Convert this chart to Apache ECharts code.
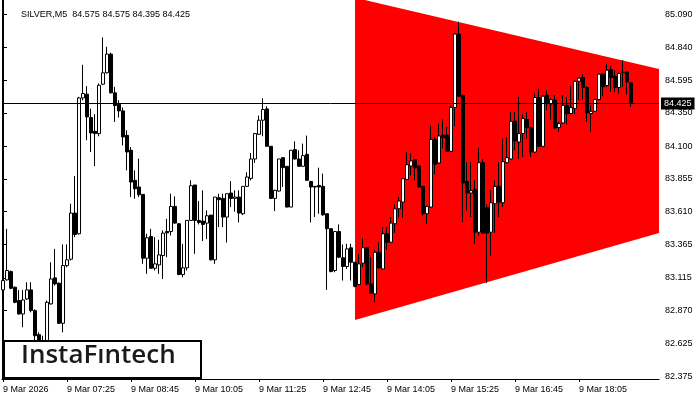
<!DOCTYPE html>
<html>
<head>
<meta charset="utf-8">
<script src="https://cdn.jsdelivr.net/npm/echarts@6/dist/echarts.min.js"></script>
<style>html,body{margin:0;padding:0;background:#fff;}#c{width:700px;height:400px;}</style>
</head>
<body>
<div id="c"></div>
<script>
const symbolTitle = 'SILVER,M5  84.575 84.575 84.395 84.425';
const currentPrice = 84.425;
const opens = [83.025,83.100,83.162,83.045,82.945,82.845,82.957,83.025,82.870,82.690,82.640,82.580,82.920,83.115,83.075,82.775,83.207,83.255,83.600,83.445,
84.462,84.490,84.315,84.212,84.195,84.565,84.650,84.790,84.500,84.415,84.365,84.182,84.070,83.845,83.795,83.740,83.262,83.425,83.187,83.212,
83.282,83.462,83.462,83.650,83.520,83.140,83.190,83.545,83.810,83.545,83.540,83.525,83.585,83.250,83.715,83.710,83.570,83.750,83.710,83.720,
83.595,83.800,83.860,84.005,84.190,84.295,84.380,84.100,83.710,83.765,84.015,83.950,83.645,84.075,84.005,83.950,84.040,83.837,83.800,83.807,
83.800,83.595,83.483,83.170,83.462,83.265,83.200,83.340,83.232,83.065,83.225,83.340,83.070,82.995,83.307,83.182,83.445,83.382,83.520,83.632,
83.682,83.852,83.952,84.000,83.952,83.800,83.595,83.645,84.152,83.975,84.182,84.182,84.062,84.390,84.940,84.482,83.837,83.750,83.777,83.457,
83.977,83.640,83.457,83.670,83.800,83.677,83.977,84.005,84.287,84.132,84.195,84.300,84.240,84.057,84.465,84.100,84.482,84.415,84.445,84.240,
84.275,84.407,84.345,84.382,84.587,84.615,84.540,84.345,84.362,84.450,84.640,84.555,84.675,84.625,84.540,84.650,84.655,84.575];
const closes = [83.095,83.170,83.037,82.932,82.845,82.950,83.025,82.870,82.682,82.650,82.600,82.932,83.107,83.070,82.775,83.207,83.250,83.600,83.440,84.462,
84.495,84.320,84.200,84.195,84.557,84.650,84.790,84.500,84.405,84.365,84.170,84.057,83.832,83.782,83.737,83.262,83.415,83.187,83.220,83.287,
83.450,83.452,83.650,83.525,83.140,83.190,83.545,83.805,83.545,83.530,83.515,83.580,83.250,83.720,83.700,83.570,83.745,83.710,83.720,83.600,
83.800,83.870,84.005,84.195,84.295,84.375,84.100,83.710,83.770,84.005,83.940,83.645,84.070,84.005,83.950,84.030,83.845,83.795,83.795,83.795,
83.587,83.483,83.162,83.462,83.270,83.200,83.332,83.232,83.052,83.220,83.340,83.070,83.000,83.307,83.190,83.445,83.382,83.525,83.632,83.690,
83.857,83.962,83.990,83.937,83.795,83.595,83.650,84.152,83.965,84.177,84.165,84.062,84.390,84.940,84.475,83.825,83.750,83.768,83.457,83.977,
83.450,83.450,83.677,83.800,83.682,83.985,84.015,84.287,84.140,84.195,84.307,84.240,84.057,84.465,84.100,84.475,84.420,84.450,84.237,84.270,
84.407,84.345,84.390,84.587,84.610,84.540,84.350,84.362,84.450,84.640,84.545,84.670,84.615,84.540,84.645,84.655,84.582,84.425];
const lows = [82.945,83.095,83.030,82.925,82.840,82.745,82.950,82.857,82.650,82.620,82.560,82.560,82.915,83.057,82.770,82.707,83.195,83.245,83.420,83.440,
84.445,84.145,84.057,83.952,84.175,84.560,84.645,84.495,84.282,84.315,84.107,83.920,83.720,83.707,83.720,83.220,83.145,83.185,83.170,83.145,
83.107,83.270,83.432,83.520,83.135,83.120,83.170,83.545,83.295,83.515,83.390,83.405,83.245,83.220,83.495,83.495,83.380,83.645,83.610,83.530,
83.585,83.795,83.845,83.975,84.185,84.175,84.100,83.705,83.615,83.760,83.795,83.645,83.645,84.000,83.950,83.945,83.845,83.530,83.570,83.595,
83.580,83.025,83.157,83.157,83.265,83.095,83.182,83.095,83.045,83.060,83.195,83.057,82.995,82.932,83.185,83.180,83.325,83.375,83.452,83.565,
83.565,83.850,83.882,83.845,83.790,83.582,83.520,83.640,83.890,83.970,84.082,84.060,84.057,84.250,84.470,83.532,83.620,83.570,83.370,83.432,
83.445,83.077,83.277,83.452,83.570,83.645,83.970,84.000,84.070,84.007,84.020,84.157,84.020,84.050,84.095,84.095,84.370,84.295,84.232,84.207,
84.265,84.265,84.340,84.340,84.445,84.450,84.282,84.207,84.357,84.445,84.475,84.545,84.507,84.507,84.495,84.545,84.487,84.395];
const highs = [83.232,83.482,83.170,83.050,83.025,83.025,83.082,83.082,82.880,82.707,82.682,82.945,83.232,83.332,83.080,83.365,83.365,83.670,83.877,84.470,
84.710,84.550,84.382,84.340,84.570,84.915,84.845,84.800,84.545,84.445,84.390,84.220,84.095,83.920,84.007,83.740,83.445,83.482,83.420,83.400,
83.470,83.557,83.745,83.725,83.525,83.370,83.545,83.845,83.810,83.690,83.770,83.620,83.585,83.720,83.745,83.745,83.745,83.840,83.770,83.770,
83.800,83.905,84.050,84.200,84.330,84.460,84.400,84.100,83.775,84.005,84.015,83.950,84.070,84.137,84.070,84.120,84.180,83.840,83.802,83.940,
83.895,83.595,83.483,83.462,83.515,83.365,83.370,83.370,83.232,83.295,83.415,83.340,83.270,83.325,83.382,83.495,83.495,83.570,83.665,83.720,
83.860,84.057,84.045,84.005,83.955,83.800,83.655,84.257,84.170,84.270,84.302,84.245,84.407,84.945,85.032,84.485,83.982,83.982,83.845,84.090,
84.007,83.665,83.770,83.845,83.982,84.157,84.170,84.357,84.357,84.470,84.340,84.357,84.245,84.495,84.532,84.482,84.520,84.457,84.482,84.282,
84.482,84.470,84.550,84.590,84.612,84.640,84.550,84.407,84.455,84.642,84.642,84.715,84.700,84.670,84.650,84.745,84.660,84.575];

// x-axis tick labels (candle index -> label)
const tickIndices = [0,16,32,48,64,80,96,112,128,144];
const tickLabels = ['9 Mar 2026','9 Mar 07:25','9 Mar 08:45','9 Mar 10:05','9 Mar 11:25','9 Mar 12:45','9 Mar 14:05','9 Mar 15:25','9 Mar 16:45','9 Mar 18:05'];
// y-axis tick labels
const priceTicks = [82.375,82.625,82.870,83.115,83.365,83.610,83.855,84.100,84.350,84.595,84.840,85.090];
// triangle pattern (candle index, price)
const triangleX = [88, 164, 164, 88];
const triangleY = [85.212, 84.678, 83.451, 82.800];

const candleData = opens.map((o, i) => [i, o, closes[i], lows[i], highs[i]]);
const FONT = 'Liberation Sans';

const chart = echarts.init(document.getElementById('c'), null, {renderer: 'canvas'});
chart.setOption({
  animation: false,
  backgroundColor: '#ffffff',
  title: {
    text: symbolTitle, left: 16, top: 5,
    textStyle: {fontSize: 9, fontWeight: 'normal', color: '#000', fontFamily: FONT}
  },
  grid: {left: 2, right: 41, top: 0, bottom: 21},
  xAxis: {
    type: 'value', min: -0.25, max: 164,
    axisLine: {show: true, lineStyle: {color: '#000', width: 1}},
    axisTick: {show: true, length: 3, lineStyle: {color: '#000'}, customValues: tickIndices},
    axisLabel: {
      show: true, customValues: tickIndices, align: 'left', margin: 6,
      fontSize: 9, color: '#000', fontFamily: FONT,
      formatter: v => { const k = tickIndices.indexOf(Math.round(v)); return k >= 0 ? tickLabels[k] : ''; }
    },
    splitLine: {show: false}
  },
  yAxis: [{
    type: 'value', position: 'right', min: 82.358, max: 85.195, scale: true,
    axisLine: {show: true, lineStyle: {color: '#000', width: 1}},
    axisTick: {show: true, length: 4, lineStyle: {color: '#000'}, customValues: priceTicks},
    axisLabel: {show: true, customValues: priceTicks, margin: 6, fontSize: 9, color: '#000', fontFamily: FONT,
      formatter: v => v.toFixed(3)},
    splitLine: {show: false}
  }, {
    type: 'value', position: 'left', min: 82.358, max: 85.195,
    axisLine: {show: true, onZero: false, lineStyle: {color: '#000', width: 1}},
    axisTick: {show: false}, axisLabel: {show: false}, splitLine: {show: false}
  }],
  series: [{
    type: 'custom',
    z: 1,
    silent: true,
    data: [[0, 83.5]],
    renderItem: (params, api) => ({
      type: 'polygon',
      shape: {points: triangleX.map((x, k) => api.coord([x, triangleY[k]]))},
      style: {fill: '#ff0000'}
    })
  }, {
    type: 'candlestick',
    z: 3,
    barWidth: 3,
    dimensions: ['idx', 'open', 'close', 'lowest', 'highest'],
    encode: {x: 'idx', y: ['open', 'close', 'lowest', 'highest']},
    data: candleData,
    itemStyle: {color: '#ffffff', color0: '#000000', borderColor: '#000000', borderColor0: '#000000', borderWidth: 1},
    markLine: {
      silent: true, symbol: 'none', animation: false,
      lineStyle: {color: '#000', width: 1, type: 'solid'},
      label: {show: true, position: 'end', distance: 2, formatter: () => currentPrice.toFixed(3),
        backgroundColor: '#000', color: '#fff', fontSize: 9, fontFamily: FONT, padding: [2, 3, 1, 3]},
      data: [{yAxis: currentPrice}]
    }
  }],
  graphic: [{
    type: 'rect', left: 3, top: 340, z: 100,
    shape: {width: 197, height: 37},
    style: {fill: '#fff', stroke: '#000', lineWidth: 2}
  }, {
    type: 'text', left: 21, top: 343, z: 101,
    style: {text: 'InstaFıntech', fill: '#1a1a1a', font: '600 26px "Open Sans", Inter, sans-serif'}
  }]
});
</script>
</body>
</html>
